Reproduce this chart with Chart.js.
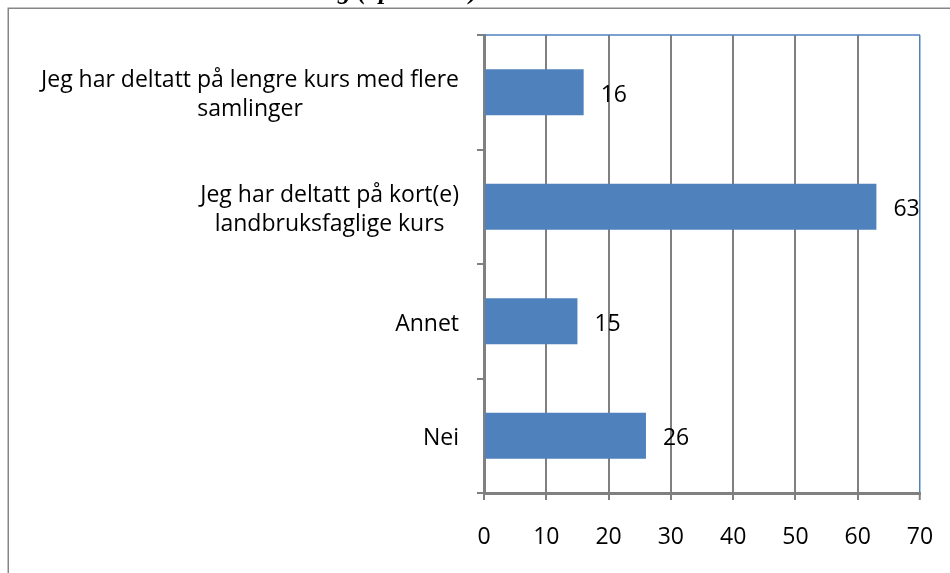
<!DOCTYPE html>
<html><head><meta charset="utf-8">
<script src="https://cdn.jsdelivr.net/npm/chart.js@4"></script>
<style>html,body{margin:0;padding:0;background:#fff;overflow:hidden}</style>
</head><body>
<canvas id="c" width="950" height="573" style="display:block;width:950px;height:573px"></canvas>
<script>
const categories = [
  ["Jeg har deltatt på lengre kurs med flere", "samlinger"],
  ["Jeg har deltatt på kort(e)", "landbruksfaglige kurs"],
  "Annet",
  "Nei"
];
const values = [16, 63, 15, 26];
const xTicks = [0, 10, 20, 30, 40, 50, 60, 70];
const captionText = "Kurs innen landbruksutdanning (åpne svar)";

const FONT = '"Open Sans", "Liberation Sans", sans-serif';
const FS = 23;
const GRAY = '#868686';
const BLUE = '#4F81BD';

const customDraw = {
  id: 'customDraw',
  beforeDraw(chart) {
    const ctx = chart.ctx;
    ctx.save();
    ctx.fillStyle = '#fff';
    ctx.fillRect(0, 0, chart.width, chart.height);
    ctx.strokeStyle = GRAY;
    ctx.lineWidth = 1.5;
    ctx.beginPath();
    ctx.moveTo(8.25, chart.height + 2);
    ctx.lineTo(8.25, 8.25);
    ctx.lineTo(chart.width + 2, 8.25);
    ctx.stroke();
    ctx.fillStyle = '#000';
    ctx.font = 'italic bold 26px "Liberation Serif", serif';
    ctx.textAlign = 'right';
    ctx.textBaseline = 'alphabetic';
    ctx.fillText(captionText, 478, -1.5);
    ctx.restore();
  },
  afterDatasetsDraw(chart) {
    const ctx = chart.ctx;
    const area = chart.chartArea;
    const yScale = chart.scales.y;
    ctx.save();
    ctx.strokeStyle = BLUE;
    ctx.lineWidth = 1.5;
    ctx.beginPath();
    ctx.moveTo(area.left, area.top);
    ctx.lineTo(area.right, area.top);
    ctx.stroke();

    ctx.fillStyle = '#000';
    ctx.font = FS + 'px ' + FONT;
    ctx.textBaseline = 'middle';
    const meta = chart.getDatasetMeta(0);
    meta.data.forEach((bar, i) => {
      ctx.textAlign = 'left';
      ctx.fillText(String(values[i]), bar.x + 17, bar.y + 3);
    });
    const rightEdge = area.left - 25;
    const lh = 29;
    categories.forEach((lab, i) => {
      const lines = Array.isArray(lab) ? lab : [lab];
      const w = Math.max(...lines.map(l => ctx.measureText(l).width));
      const cx = rightEdge - w / 2;
      const cy = yScale.getPixelForValue(i) + 3;
      const y0 = cy - (lines.length - 1) * lh / 2;
      ctx.textAlign = 'center';
      lines.forEach((l, k) => ctx.fillText(l, cx, y0 + k * lh));
    });
    ctx.restore();
  }
};

new Chart(document.getElementById('c'), {
  type: 'bar',
  data: {
    labels: categories,
    datasets: [{
      data: values,
      backgroundColor: BLUE,
      borderWidth: 0,
      barPercentage: 0.4,
      categoryPercentage: 1
    }]
  },
  options: {
    indexAxis: 'y',
    responsive: false,
    animation: false,
    devicePixelRatio: 1,
    layout: { padding: { top: 35, right: 30, left: 0, bottom: 0 } },
    plugins: { legend: { display: false }, tooltip: { enabled: false }, title: { display: false } },
    scales: {
      x: {
        type: 'linear',
        min: 0,
        max: 70,
        afterBuildTicks: s => { s.ticks = xTicks.map(v => ({ value: v })); },
        afterFit: s => { s.height = 80; s.paddingRight = 14; s.paddingLeft = 0; },
        ticks: { font: { family: FONT, size: FS }, color: '#000', padding: 24, maxRotation: 0 },
        grid: {
          color: c => (c.tick && c.tick.value === 70) ? BLUE : '#808080',
          lineWidth: c => (c.tick && c.tick.value === 70) ? 1.5 : 2,
          tickLength: 7,
          tickColor: '#808080',
          tickWidth: 2
        },
        border: { color: '#808080', width: 3 }
      },
      y: {
        afterFit: s => { s.width = 484; },
        ticks: { display: false },
        grid: { drawOnChartArea: false, tickLength: 7, color: '#808080', lineWidth: 2 },
        border: { color: '#808080', width: 3 }
      }
    }
  },
  plugins: [customDraw]
});
</script>
</body></html>
